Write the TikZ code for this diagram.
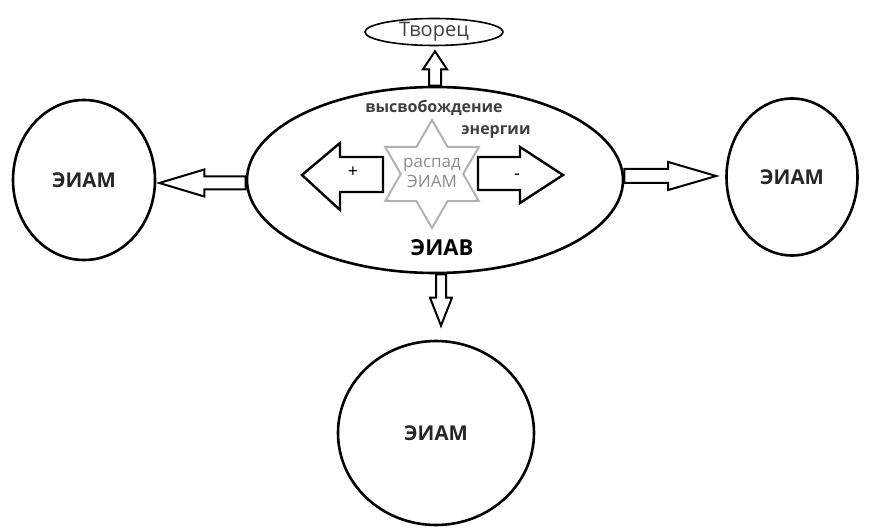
\documentclass[tikz,border=0pt]{standalone}
\usepackage{fontspec}
\setmainfont{Open Sans}
\usetikzlibrary{shapes.geometric,calc}

\begin{document}
\begin{tikzpicture}
[x=0.5pt,y=-0.5pt,
  bubble/.style={shape=ellipse,draw,line width=1.3pt,inner sep=0pt,text=black!85,%
    font=\fontsize{10.2}{11}\selectfont\bfseries},
  hollowarrow/.style={draw,fill=white,line width=1pt,line join=miter},
  bigarrow/.style={draw,fill=white,line width=1.2pt,line join=miter},
  caption/.style={font=\fontsize{8}{9}\selectfont\bfseries,text=black!75}]
\useasboundingbox (0,0) rectangle (872,528);
%% nodes or vertices
\node (eiav) at (435,180) [bubble,minimum width=188pt,minimum height=93pt] {};
\node (tvorets) at (434,32) [bubble,line width=0.8pt,minimum width=69pt,minimum height=12.5pt,%
  text=black!75,font=\fontsize{10}{10}\selectfont] {Творец};
\foreach \nodename/\x/\y/\w/\h in {left/84/180/71pt/80pt,
  right/792/177/65.5pt/78.5pt, bottom/436/433/98pt/92pt}
{
  \node (\nodename) at (\x,\y) [bubble,minimum width=\w,minimum height=\h] {ЭИАМ};
}
\node (eiavtext) at (442,248) [font=\fontsize{11}{12}\selectfont\bfseries] {ЭИАВ};
\node (release) at (434,108) [caption] {высвобождение};
\node (energy) at (496,132) [caption] {энергии};
%% the star in the middle
\node (burst) at (432,174) [star,star points=6,star point ratio=1.73,minimum size=54pt,%
  inner sep=0pt,draw=black!30,line width=1pt] {};
\node (decay) at (432,173) [align=center,text=black!45,font=\fontsize{8.5}{10}\selectfont]
  {распад\\ЭИАМ};
%% the two big arrows
\draw[bigarrow] (383,157) -- (340,157) -- (340,143) -- (302,175) -- (340,210)
  -- (340,192) -- (383,192) -- cycle;
\draw[bigarrow] (478,157) -- (520,157) -- (520,147) -- (563,175) -- (520,203)
  -- (520,190) -- (478,190) -- cycle;
\node (plus) at (353,172) [font=\fontsize{9}{9}\selectfont] {+};
\node (minus) at (517,177) [font=\fontsize{9}{9}\selectfont] {-};
%% ends of the hollow arrows
\coordinate (startL) at ($(eiav.west)+(0,3)$);
\coordinate (tipL) at ($(left.east)+(3,3)$);
\coordinate (startR) at ($(eiav.east)+(0,-4)$);
\coordinate (tipR) at ($(right.west)+(-9,-1)$);
\coordinate (startB) at ($(eiav.south)+(6,0)$);
\coordinate (tipB) at ($(bottom.north)+(5,-14)$);
\coordinate (startT) at (eiav.north);
\coordinate (tipT) at ($(tvorets.south)+(1,5)$);
%% edges or lines
\foreach \startnode/\endnode/\shaft/\head/\len in {startL/tipL/3.25pt/6.75pt/22.5pt,
  startR/tipR/3.5pt/7pt/24pt, startB/tipB/2.5pt/5.5pt/14pt, startT/tipT/3pt/6pt/9pt}
{
  \coordinate (base) at ($(\endnode)!\len!(\startnode)$);
  \draw[hollowarrow] ($(\startnode)!\shaft!90:(\endnode)$) -- ($(base)!\shaft!90:(\endnode)$)
    -- ($(base)!\head!90:(\endnode)$) -- (\endnode) -- ($(base)!\head!-90:(\endnode)$)
    -- ($(base)!\shaft!-90:(\endnode)$) -- ($(\startnode)!\shaft!-90:(\endnode)$) -- cycle;
}
\end{tikzpicture}
\end{document}
